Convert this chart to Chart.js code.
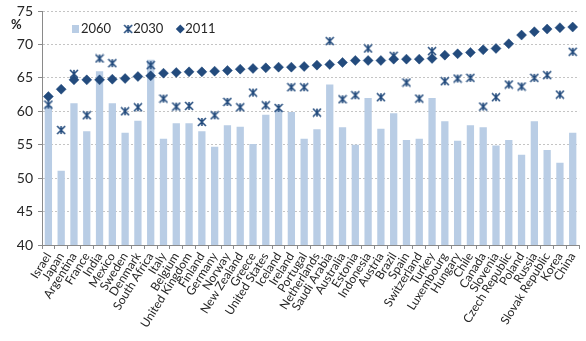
<!DOCTYPE html>
<html>
<head>
<meta charset="utf-8">
<script src="https://cdn.jsdelivr.net/npm/chart.js@4/dist/chart.umd.min.js"></script>
<style>
  body { margin: 0; background: #fff; }
  #wrap { width: 586px; height: 341px; }
</style>
</head>
<body>
<div id="wrap"><canvas id="myChart" width="586" height="341"></canvas></div>
<script>
// countries, left to right
const countries = ['Israel', 'Japan', 'Argentina', 'France', 'India', 'Mexico', 'Sweden', 'Denmark',
  'South Africa', 'Italy', 'Belgium', 'United Kingdom', 'Finland', 'Germany', 'Norway', 'New Zealand',
  'Greece', 'United States', 'Iceland', 'Ireland', 'Portugal', 'Netherlands', 'Saudi Arabia', 'Australia',
  'Estonia', 'Indonesia', 'Austria', 'Brazil', 'Spain', 'Switzerland', 'Turkey', 'Luxembourg', 'Hungary',
  'Chile', 'Canada', 'Slovenia', 'Czech Republic', 'Poland', 'Russia', 'Slovak Republic', 'Korea', 'China'];

const v2060 = [60.8, 51.1, 61.2, 57.0, 66.0, 61.2, 56.8, 58.6, 67.7, 55.9, 58.2, 58.2, 57.0, 54.7,
  57.9, 57.7, 55.1, 59.5, 60.2, 59.9, 55.9, 57.3, 64.0, 57.6, 55.0, 62.0, 57.4, 59.7, 55.7, 55.9,
  62.0, 58.5, 55.6, 57.9, 57.6, 54.9, 55.7, 53.5, 58.5, 54.2, 52.3, 56.8];

const v2030 = [61.0, 57.2, 65.6, 59.4, 67.9, 67.2, 60.0, 60.6, 66.9, 61.9, 60.7, 60.8, 58.4, 59.4,
  61.4, 60.6, 62.8, 60.9, 60.5, 63.6, 63.6, 59.8, 70.5, 61.8, 62.4, 69.4, 62.1, 68.3, 64.3, 61.9,
  69.0, 64.5, 64.9, 65.0, 60.7, 62.1, 64.0, 63.7, 65.0, 65.4, 62.5, 68.9];

const v2011 = [62.2, 63.3, 64.7, 64.7, 64.7, 64.8, 64.9, 65.2, 65.3, 65.7, 65.8, 65.9, 65.9, 66.0,
  66.1, 66.3, 66.4, 66.5, 66.6, 66.6, 66.7, 66.9, 67.0, 67.3, 67.6, 67.6, 67.6, 67.8, 67.8, 67.8,
  67.9, 68.4, 68.6, 68.8, 69.2, 69.4, 70.1, 71.4, 71.9, 72.3, 72.5, 72.6];

const yTicks = [40, 45, 50, 55, 60, 65, 70, 75];

const barCol = '#b9cde5';
const darkBlue = '#234b7d';
const font = 'Lato';

// excel style star marker: an X with a vertical stroke
function starMarker(size, color) {
  const c = document.createElement('canvas');
  c.width = size; c.height = size;
  const g = c.getContext('2d');
  const m = size / 2, r = size / 2 - 1;
  g.strokeStyle = color;
  g.lineWidth = 1.6;
  g.beginPath();
  g.moveTo(m - r, m - r); g.lineTo(m + r, m + r);
  g.moveTo(m + r, m - r); g.lineTo(m - r, m + r);
  g.moveTo(m, m - r); g.lineTo(m, m + r);
  g.stroke();
  return c;
}
const star = starMarker(10, darkBlue);

// legend inside the plot + the % label
const extras = {
  id: 'extras',
  afterDraw(chart) {
    const ctx = chart.ctx;
    const a = chart.chartArea;
    ctx.save();
    ctx.fillStyle = '#262626';
    ctx.font = 'bold 13px ' + font;
    ctx.textBaseline = 'middle';
    ctx.fillText('%', 11, 25);

    ctx.font = '13px ' + font;
    const y = a.top + 18;
    let x = a.left + 30;
    const ds = chart.data.datasets;
    ds.forEach((d, i) => {
      if (i === 0) {
        ctx.fillStyle = barCol;
        ctx.fillRect(x, y - 4, 7, 8);
      } else if (i === 1) {
        ctx.drawImage(star, x - 1, y - 5);
      } else {
        ctx.fillStyle = darkBlue;
        ctx.beginPath();
        ctx.moveTo(x + 4, y - 4.5); ctx.lineTo(x + 8.5, y);
        ctx.lineTo(x + 4, y + 4.5); ctx.lineTo(x - 0.5, y);
        ctx.closePath(); ctx.fill();
      }
      ctx.fillStyle = '#262626';
      ctx.fillText(d.label, x + 9, y);
      x += 9 + ctx.measureText(d.label).width + 13;
    });
    ctx.restore();
  }
};

const ctx = document.getElementById('myChart').getContext('2d');
const chart = new Chart(ctx, {
  type: 'bar',
  data: {
    labels: countries,
    datasets: [
      {
        label: '2060',
        data: v2060,
        backgroundColor: barCol,
        barPercentage: 0.57,
        categoryPercentage: 1,
        order: 3
      },
      {
        type: 'line',
        label: '2030',
        data: v2030,
        showLine: false,
        pointStyle: star,
        pointRadius: 5,
        order: 1
      },
      {
        type: 'line',
        label: '2011',
        data: v2011,
        showLine: false,
        pointStyle: 'rectRot',
        pointRadius: 5,
        pointBackgroundColor: darkBlue,
        pointBorderColor: darkBlue,
        pointBorderWidth: 0.5,
        order: 2
      }
    ]
  },
  options: {
    responsive: false,
    animation: false,
    layout: { padding: { top: 11, right: 3, left: 0, bottom: 0 } },
    plugins: {
      legend: { display: false },
      tooltip: { enabled: false }
    },
    scales: {
      x: {
        offset: true,
        grid: {
          display: true,
          drawOnChartArea: false,
          drawTicks: true,
          tickLength: 4,
          tickColor: '#8a8a8a',
          offset: true
        },
        border: { color: '#8a8a8a', width: 1 },
        ticks: {
          color: '#262626',
          font: { family: font, size: 12 },
          minRotation: 58,
          maxRotation: 58,
          autoSkip: false,
          padding: 1
        },
        afterFit(scale) { scale.height = 96; }
      },
      y: {
        min: 40,
        max: 75,
        afterBuildTicks(scale) { scale.ticks = yTicks.map(v => ({ value: v })); },
        grid: {
          color: '#c4c4c4',
          tickColor: '#8a8a8a',
          tickLength: 4,
          tickBorderDash: []
        },
        border: { color: '#8a8a8a', width: 1, dash: [2, 2] },
        ticks: {
          color: '#262626',
          font: { family: font, size: 14 },
          padding: 5
        },
        afterFit(scale) {
          scale.width = 42;
          scale.paddingTop = 0;
          scale.paddingBottom = 0;
        }
      }
    }
  },
  plugins: [extras]
});
</script>
</body>
</html>
